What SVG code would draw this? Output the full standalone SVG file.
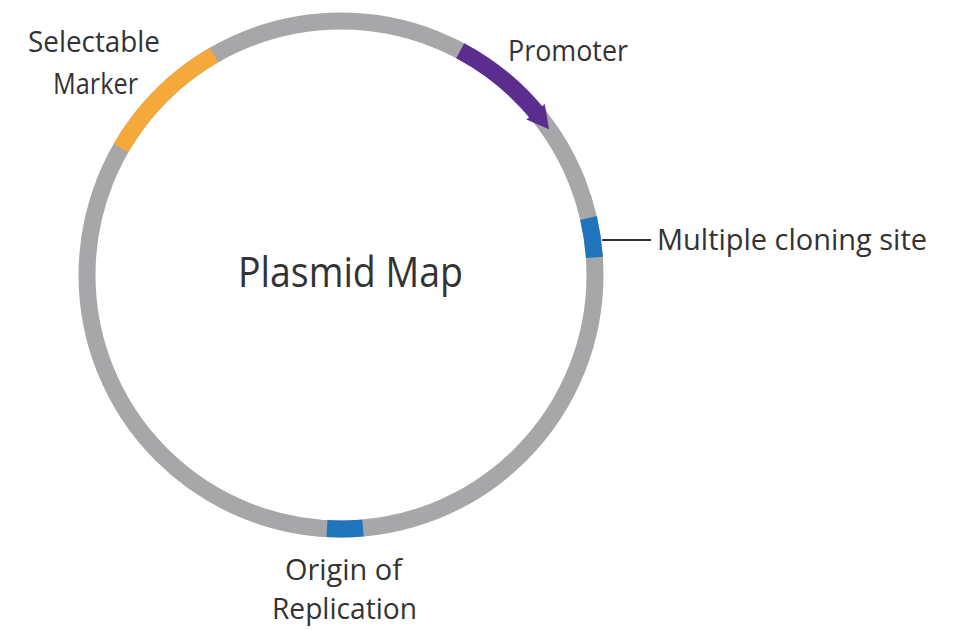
<svg xmlns="http://www.w3.org/2000/svg" width="953" height="630" viewBox="0 0 953 630">
  <style>
    .lbl { font-family: "Open Sans", "Noto Sans", "Liberation Sans", sans-serif; fill: #333333; font-size: 30px; }
    .seg { fill: none; stroke-width: 17; stroke-linecap: butt; }
  </style>
  <rect x="0" y="0" width="953" height="630" fill="#ffffff"/>

  <g id="backbone">
    <circle cx="341" cy="275" r="254" fill="none" stroke="#a7a7a9" stroke-width="17"/>
    <text class="lbl" x="238" y="287" style="font-size:42px" textLength="225" lengthAdjust="spacingAndGlyphs">Plasmid Map</text>
  </g>

  <g id="selectable-marker">
    <path class="seg" stroke="#f6a93b" d="M 121 148 A 254 254 0 0 1 214 55"/>
    <text class="lbl" x="28" y="52" textLength="132" lengthAdjust="spacingAndGlyphs">Selectable</text>
    <text class="lbl" x="53" y="94" textLength="85" lengthAdjust="spacingAndGlyphs">Marker</text>
  </g>

  <g id="promoter">
    <path class="seg" stroke="#5a2d8e" d="M 460.2 50.7 A 254 254 0 0 1 539.8 116.8"/>
    <polygon fill="#5a2d8e" points="544.8,104 526.4,119.4 549,129.3"/>
    <text class="lbl" x="508" y="61" textLength="120" lengthAdjust="spacingAndGlyphs">Promoter</text>
  </g>

  <g id="multiple-cloning-site">
    <path class="seg" stroke="#1f75bb" d="M 588.5 218 A 254 254 0 0 1 594.4 257.3"/>
    <text class="lbl" x="657" y="250" textLength="270" lengthAdjust="spacingAndGlyphs">Multiple cloning site</text>
  </g>

  <g id="origin-of-replication">
    <path class="seg" stroke="#1f75bb" d="M 363 528 A 254 254 0 0 1 327 528.6"/>
    <text class="lbl" x="285" y="580" textLength="117" lengthAdjust="spacingAndGlyphs">Origin of</text>
    <text class="lbl" x="272" y="619" textLength="145" lengthAdjust="spacingAndGlyphs">Replication</text>
  </g>

  <g id="connectors">
    <line x1="602" y1="240" x2="651" y2="240" stroke="#333333" stroke-width="2"/>
  </g>
</svg>
